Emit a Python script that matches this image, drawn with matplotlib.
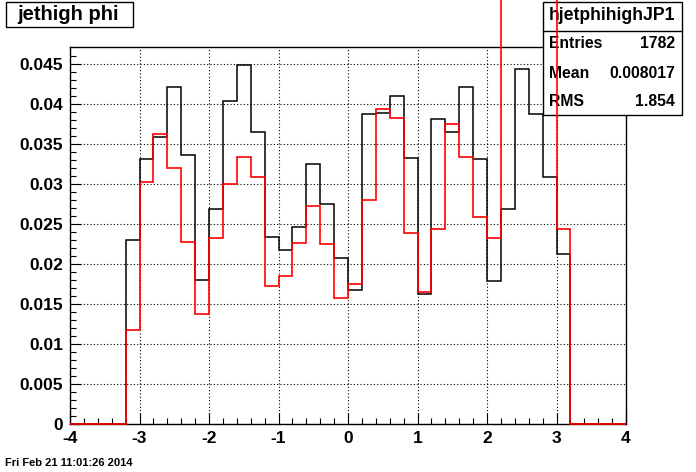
import matplotlib
matplotlib.use("Agg")
import matplotlib.pyplot as plt
from matplotlib.patches import Rectangle
from matplotlib.lines import Line2D
import numpy as np

# histogram binning: 40 bins on [-4, 4]
phi_lo, phi_hi, n_bins = -4.0, 4.0, 40

# hjetphihighJP1 (black), normalised
black_vals = [0, 0, 0, 0,
              0.0230, 0.0331, 0.0358, 0.0421, 0.0336, 0.0180, 0.0268, 0.0403,
              0.0449, 0.0365, 0.0234, 0.0218, 0.0246, 0.0325, 0.0275, 0.0208,
              0.0168, 0.0387, 0.0388, 0.0410, 0.0332, 0.0162, 0.0381, 0.0365,
              0.0421, 0.0331, 0.0179, 0.0268, 0.0443, 0.0387, 0.0308, 0.0213,
              0, 0, 0, 0]

# overlaid histogram (red); bins 2.2-3.0 run off the top of the frame
red_vals = [0, 0, 0, 0,
            0.0117, 0.0302, 0.0362, 0.0320, 0.0227, 0.0138, 0.0232, 0.0300,
            0.0333, 0.0308, 0.0173, 0.0185, 0.0226, 0.0272, 0.0225, 0.0157,
            0.0175, 0.0280, 0.0393, 0.0382, 0.0239, 0.0165, 0.0244, 0.0375,
            0.0333, 0.0258, 0.0232, 0.0600, 0.0600, 0.0600, 0.0600, 0.0243,
            0, 0, 0, 0]

x_ticks = [-4, -3, -2, -1, 0, 1, 2, 3, 4]
y_ticks = [0, 0.005, 0.01, 0.015, 0.02, 0.025, 0.03, 0.035, 0.04, 0.045]

hist_title = "jethigh phi"
stats_name = "hjetphihighJP1"
stats_rows = [("Entries", "1782"), ("Mean", "0.008017"), ("RMS", "1.854")]
date_text = "Fri Feb 21 11:01:26 2014"

FONT = ["Liberation Sans", "DejaVu Sans"]
plt.rcParams["font.family"] = FONT
plt.rcParams["font.weight"] = "bold"

W, H = 696, 472
fig = plt.figure(figsize=(W / 100, H / 100), dpi=100)
ax = fig.add_axes([70 / W, 1 - 424 / H, (626 - 70) / W, (424 - 47) / H])

edges = np.linspace(phi_lo, phi_hi, n_bins + 1)
ax.stairs(black_vals, edges, baseline=0, color="black", lw=1.1, zorder=2)
ax.stairs(red_vals, edges, baseline=0, color="red", lw=1.2, zorder=6,
          clip_on=False)

ax.set_xlim(phi_lo, phi_hi)
ax.set_ylim(0, 0.0471)
ax.set_xticks(x_ticks)
ax.set_xticklabels([str(t) for t in x_ticks])
ax.set_yticks(y_ticks)
ax.set_yticklabels(["%g" % t for t in y_ticks])
ax.set_xticks(edges, minor=True)
ax.set_yticks(np.arange(0, 0.047, 0.001), minor=True)
ax.tick_params(which="major", direction="in", length=8, width=0.8,
               labelsize=12.5, pad=5)
ax.tick_params(which="minor", direction="in", length=4.3, width=0.8)
for lab in ax.get_xticklabels() + ax.get_yticklabels():
    lab.set_fontweight("bold")
ax.grid(True, which="major", color="black", linestyle=(0, (1, 2)), lw=0.8)
for s in ax.spines.values():
    s.set_linewidth(1.0)

# title box
fig.add_artist(Rectangle((6 / W, 1 - 27 / H), 127 / W, 25 / H,
                         transform=fig.transFigure, fill=True,
                         facecolor="white", edgecolor="black", lw=1.0))
fig.text(68 / W, 1 - 15 / H, hist_title, ha="center", va="center",
         fontsize=14.5, fontweight="bold")

# stats box, sits above the black histogram but under the red one
ax.add_patch(Rectangle((543 / W, 1 - 115 / H), 139 / W, 113 / H,
                       transform=fig.transFigure, facecolor="white",
                       edgecolor="black", lw=1.0, clip_on=False, zorder=4))
ax.add_line(Line2D([543 / W, 682 / W], [1 - 30.7 / H, 1 - 30.7 / H],
                   transform=fig.transFigure, color="black", lw=1.0,
                   clip_on=False, zorder=4))
ax.text(612.5 / W, 1 - 16 / H, stats_name, transform=fig.transFigure,
        ha="center", va="center", fontsize=12.7, fontweight="bold",
        zorder=5, clip_on=False)
for (name, val), ypix in zip(stats_rows, [44, 73, 101]):
    ax.text(549 / W, 1 - ypix / H, name, transform=fig.transFigure,
            ha="left", va="center", fontsize=11.3, fontweight="bold",
            zorder=5, clip_on=False)
    ax.text(675 / W, 1 - ypix / H, val, transform=fig.transFigure,
            ha="right", va="center", fontsize=11.3, fontweight="bold",
            zorder=5, clip_on=False)

fig.text(5 / W, 1 - 463 / H, date_text, ha="left", va="center",
         fontsize=8, fontweight="bold")

fig.savefig("out.png", dpi=100)
